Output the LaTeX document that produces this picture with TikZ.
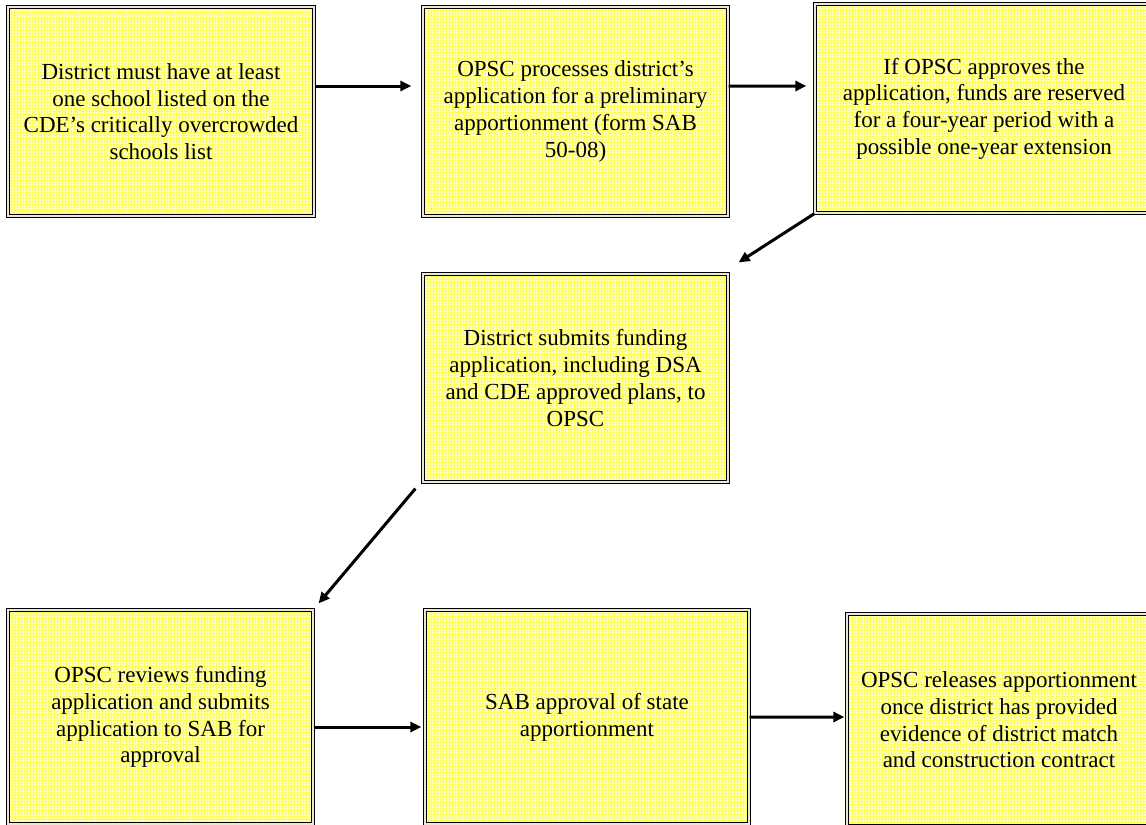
\documentclass[tikz,border=0pt]{standalone}
\usepackage{fontspec}
\setmainfont{Liberation Serif}
\usetikzlibrary{arrows.meta}
\definecolor{boxfill}{RGB}{255,255,195}
\definecolor{gridc}{RGB}{255,255,90}
\definecolor{gapc}{RGB}{232,232,215}
\tikzset{
  flowbox/.style={rectangle, draw=black, line width=1.4bp, double=gapc, double distance=1.6bp,
    fill=boxfill, inner sep=0pt, align=center, text=black,
    font=\fontsize{23bp}{26.7bp}\selectfont,
    path picture={\draw[gridc, line width=0.5bp] (path picture bounding box.south west) grid[step=3bp] (path picture bounding box.north east);}},
  flowarrow/.style={-{Triangle[length=11bp,width=10bp]}, line width=3bp, draw=black}
}
\begin{document}
\begin{tikzpicture}[x=1bp, y=-1bp]
\useasboundingbox (0,0) rectangle (1146,825);
\fill[white] (0,0) rectangle (1146,825);

\node[flowbox, minimum width=305.8bp, minimum height=208.8bp] (b1) at (161,111.5)
  {District must have at least\\one school listed on the\\CDE’s critically overcrowded\\schools list};
\node[flowbox, minimum width=304.8bp, minimum height=208.8bp] (b2) at (575.5,111.5)
  {OPSC processes district’s\\application for a preliminary\\apportionment (form SAB\\50-08)};
\node[flowbox, minimum width=337.8bp, minimum height=208.8bp] (b3) at (984,108.5)
  {If OPSC approves the\\application, funds are reserved\\for a four-year period with a\\possible one-year extension};
\node[flowbox, minimum width=304.8bp, minimum height=207.8bp] (b4) at (575.5,378)
  {District submits funding\\application, including DSA\\and CDE approved plans, to\\OPSC};
\node[flowbox, minimum width=304.8bp, minimum height=213.8bp] (b5) at (160.5,717)
  {OPSC reviews funding\\application and submits\\application to SAB for\\approval};
\node[flowbox, minimum width=323.8bp, minimum height=213.8bp] (b6) at (587,717)
  {SAB approval of state\\apportionment};
\node[flowbox, minimum width=303.8bp, minimum height=211.8bp] (b7) at (999,720)
  {OPSC releases apportionment\\once district has provided\\evidence of district match\\and construction contract};

\draw[flowarrow] ([yshift=25.5bp]b1.east) -- ([xshift=-11bp,yshift=25.5bp]b2.west);
\draw[flowarrow] ([yshift=25.5bp]b2.east) -- ([xshift=-8bp,yshift=22.5bp]b3.west);
\draw[flowarrow] (b3.south west) -- ([xshift=10bp,yshift=11bp]b4.north east);
\draw[flowarrow] ([xshift=-7bp,yshift=-6bp]b4.south west) -- ([xshift=5bp,yshift=6bp]b5.north east);
\draw[flowarrow] ([yshift=-10bp]b5.east) -- ([xshift=-3bp,yshift=-10bp]b6.west);
\draw[flowarrow] (b6.east) -- ([xshift=-2bp,yshift=3bp]b7.west);
\end{tikzpicture}
\end{document}
